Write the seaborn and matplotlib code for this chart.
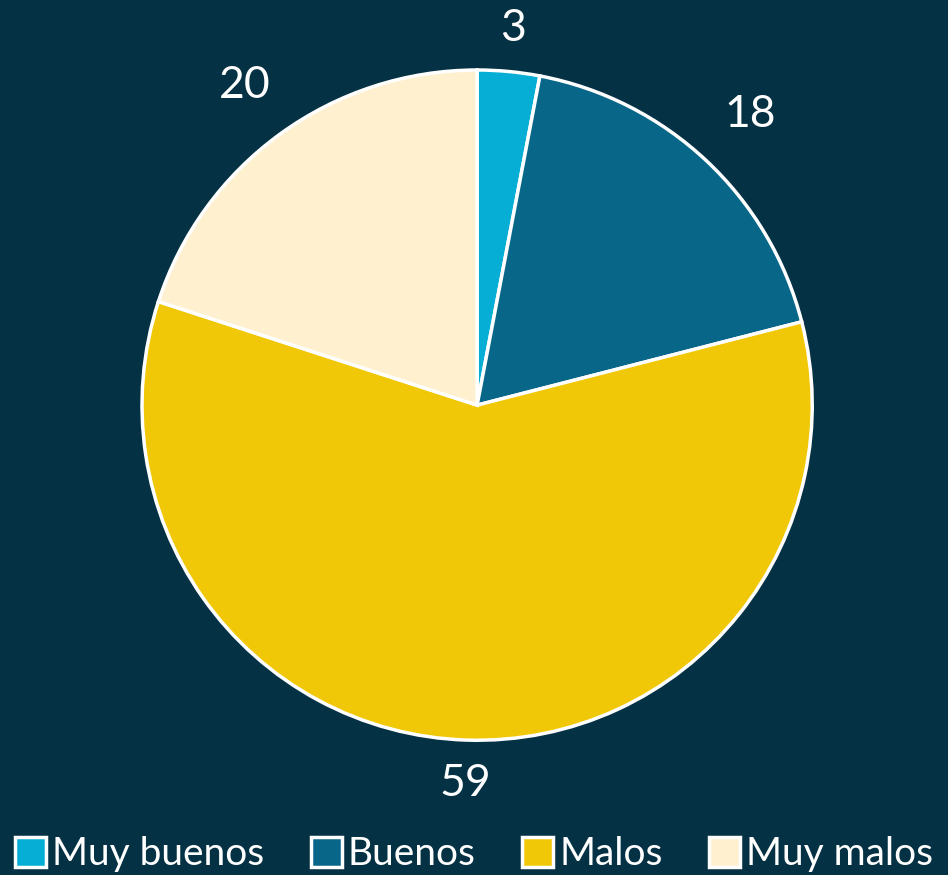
import matplotlib
matplotlib.use("Agg")
import matplotlib.pyplot as plt
import seaborn as sns

# data
categories = ["Muy buenos", "Buenos", "Malos", "Muy malos"]
values = [3, 18, 59, 20]
colors = ["#06AED5", "#086788", "#F0C808", "#FFF1D0"]
bg = "#043143"

sns.set_theme(style="white")
plt.rcParams["font.family"] = ["Lato", "DejaVu Sans"]

palette = sns.color_palette(colors)

fig = plt.figure(figsize=(9.48, 8.75), dpi=100, facecolor=bg)
ax = fig.add_axes([0.1498, 0.154, 0.707, 0.766])
ax.set_facecolor(bg)

wedges, texts = ax.pie(
    values,
    labels=[str(v) for v in values],
    colors=palette,
    startangle=90,
    counterclock=False,
    labeldistance=1.0,
    wedgeprops=dict(edgecolor="white", linewidth=2.5),
    textprops=dict(color="white", fontsize=32),
)
# push labels out a bit more on the diagonal slices, like the best-fit placement
label_dist = [1.13, 1.19, 1.13, 1.18]
for t, d in zip(texts, label_dist):
    x, y = t.get_position()
    t.set_position((x * d, y * d))
    t.set_horizontalalignment("center")
    t.set_verticalalignment("center")
    t.set_clip_on(False)
ax.set_xlim(-1, 1)
ax.set_ylim(-1, 1)
ax.set_aspect("equal")

leg = fig.legend(
    wedges, categories,
    loc="lower center", bbox_to_anchor=(0.5, -0.037), ncol=4,
    frameon=False, fontsize=28, labelcolor="white",
    handlelength=0.8, handleheight=0.8, handletextpad=0.15,
    columnspacing=1.2,
)

fig.savefig("out.png", dpi=100, facecolor=bg)
